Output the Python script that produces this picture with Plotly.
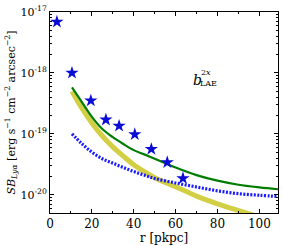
import plotly.graph_objects as go

# Data
r_stars = [3.3, 10.5, 19.5, 26.7, 33.0, 40.5, 48.4, 56.0, 63.5]
sb_stars = [6.9e-18, 1.0e-18, 3.5e-19, 1.7e-19, 1.35e-19, 9.8e-20, 5.6e-20, 3.4e-20, 1.86e-20]

r_model = [10.5, 15, 20, 25, 30, 35, 40, 45, 50, 60, 70, 80, 90, 100, 110]
sb_green = [5.8e-19, 3.4e-19, 1.9e-19, 1.2e-19, 8.8e-20, 6.8e-20, 5.4e-20, 4.6e-20, 3.9e-20,
            2.8e-20, 2.1e-20, 1.7e-20, 1.46e-20, 1.32e-20, 1.22e-20]
sb_yellow = [5.0e-19, 2.7e-19, 1.5e-19, 9.2e-20, 6.1e-20, 4.3e-20, 3.1e-20, 2.4e-20, 1.9e-20,
             1.35e-20, 9.5e-21, 7.1e-21, 5.5e-21, 4.3e-21, 3.4e-21]
sb_blue = [1.0e-19, 7.0e-20, 5.0e-20, 3.9e-20, 3.3e-20, 2.8e-20, 2.4e-20, 2.1e-20, 1.85e-20,
           1.56e-20, 1.34e-20, 1.16e-20, 1.04e-20, 9.8e-21, 9.3e-21]

x_ticks = [0, 20, 40, 60, 80, 100]
y_ticks = [1e-20, 1e-19, 1e-18, 1e-17]
y_ticktext = ["10<sup>-20</sup>", "10<sup>-19</sup>", "10<sup>-18</sup>", "10<sup>-17</sup>"]
y_minor = [m * 10.0 ** e for e in (-21, -20, -19, -18) for m in range(2, 10)]

FONT = "DejaVu Serif"

fig = go.Figure()
fig.add_trace(go.Scatter(x=r_model, y=sb_yellow, mode="lines",
                         line=dict(color="#d2cf45", width=5, shape="spline", smoothing=1.0),
                         showlegend=False))
fig.add_trace(go.Scatter(x=r_model, y=sb_green, mode="lines",
                         line=dict(color="#007d00", width=2.2, shape="spline", smoothing=1.0),
                         showlegend=False))
fig.add_trace(go.Scatter(x=r_model, y=sb_blue, mode="lines",
                         line=dict(color="#1a1aff", width=3.2, dash="2px,1.5px", shape="spline",
                                   smoothing=1.0),
                         showlegend=False))
fig.add_trace(go.Scatter(x=r_stars, y=sb_stars, mode="markers",
                         marker=dict(symbol="star", size=10, color="#0b0bd6",
                                     line=dict(width=0)), showlegend=False))

fig.update_layout(
    width=283, height=246,
    margin=dict(l=50, r=4, t=9, b=29),
    paper_bgcolor="white", plot_bgcolor="white",
    font=dict(family=FONT, color="black", size=11),
)
fig.update_xaxes(
    range=[0, 108.9], tickvals=x_ticks, ticks="inside", ticklen=4, tickwidth=1,
    tickcolor="black", showline=True, linecolor="black", linewidth=1, mirror="allticks",
    showgrid=False, zeroline=False, tickfont=dict(size=12, family=FONT),
    minor=dict(ticks="inside", ticklen=2, dtick=10, tickcolor="black", showgrid=False),
    title=dict(text="r [pkpc]", font=dict(size=12, family=FONT), standoff=2),
)
fig.update_yaxes(
    type="log", range=[-20.30, -17.0], tickvals=y_ticks, ticktext=y_ticktext,
    ticks="inside", ticklen=4, tickwidth=1, tickcolor="black",
    showline=True, linecolor="black", linewidth=1, mirror="allticks",
    showgrid=False, zeroline=False, tickfont=dict(size=11, family=FONT),
    minor=dict(ticks="inside", ticklen=2, tickvals=y_minor, tickcolor="black", showgrid=False),
    title=dict(text="<i>SB</i><sub><i>Lyα</i></sub> [erg s<sup>−1</sup> cm<sup>−2</sup> arcsec<sup>−2</sup>]",
               font=dict(size=11, family=FONT), standoff=2),
)

fig.add_annotation(x=0.620, y=0.663, xref="paper", yref="paper", text="<i>b</i>",
                   xanchor="left", yanchor="middle",
                   showarrow=False, font=dict(size=14, family=FONT))
fig.add_annotation(x=0.655, y=0.697, xref="paper", yref="paper", text="2<i>x</i>",
                   xanchor="left", yanchor="middle",
                   showarrow=False, font=dict(size=8, family=FONT))
fig.add_annotation(x=0.648, y=0.644, xref="paper", yref="paper", text="LAE",
                   xanchor="left", yanchor="middle",
                   showarrow=False, font=dict(size=8, family=FONT))

fig.write_html("out.html", config={"displayModeBar": False},
               post_script="document.body.style.margin='0';")
